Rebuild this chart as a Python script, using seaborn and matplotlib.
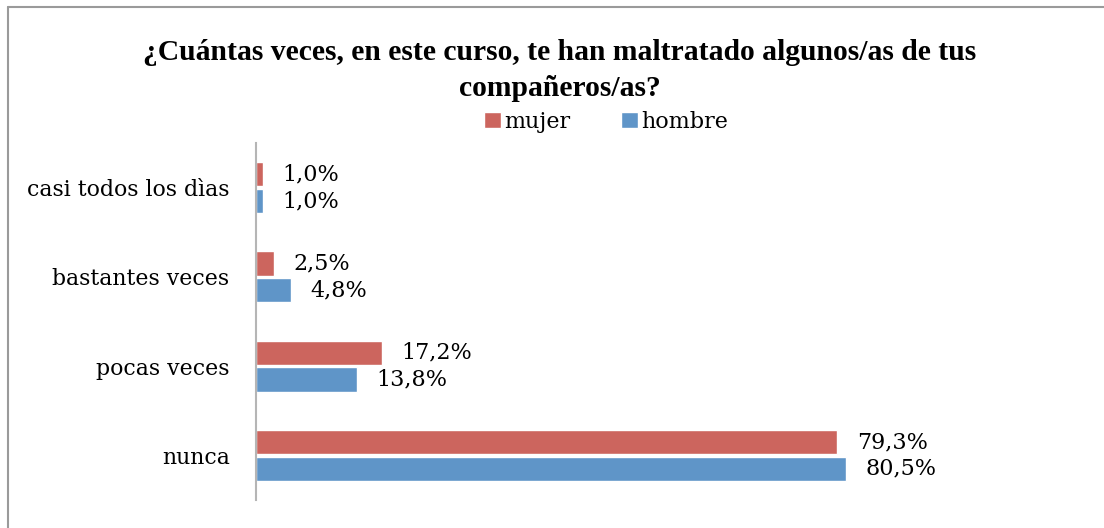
import pandas as pd
import matplotlib.pyplot as plt
import seaborn as sns
from matplotlib.lines import Line2D

# datos
categorias = ['casi todos los dìas', 'bastantes veces', 'pocas veces', 'nunca']
mujer = [1.0, 2.5, 17.2, 79.3]
hombre = [1.0, 4.8, 13.8, 80.5]
series = ['mujer', 'hombre']
colores = ['#CC655E', '#5F95C8']

df = pd.DataFrame({
    'categoria': categorias * 2,
    'valor': mujer + hombre,
    'sexo': ['mujer'] * 4 + ['hombre'] * 4,
})

sns.set_style('white')
plt.rcParams['font.family'] = ['DejaVu Serif']
plt.rcParams['text.color'] = 'black'

fig = plt.figure(figsize=(11.04, 5.28), dpi=100)
ax = fig.add_axes([256 / 1104, 1 - 500 / 528, 733 / 1104, 357 / 528])

sns.barplot(data=df, y='categoria', x='valor', hue='sexo', order=categorias,
            hue_order=series, palette=colores, orient='h', width=0.6, gap=0.1,
            saturation=1, ax=ax)

ax.set_xlim(0, 100)
ax.set_ylim(3.5, -0.5)
ax.set_xlabel('')
ax.set_ylabel('')
ax.set_xticks([])
ax.tick_params(axis='y', length=0, labelsize=15.8, pad=19, colors='black')
for s in ['top', 'right', 'bottom']:
    ax.spines[s].set_visible(False)
ax.spines['left'].set_color('#b5b5b5')
ax.spines['left'].set_linewidth(1.5)

# etiquetas de datos con coma decimal
for cont, vals in zip(ax.containers, [mujer, hombre]):
    ax.bar_label(cont, labels=[f'{v:.1f}%'.replace('.', ',') for v in vals],
                 padding=14, fontsize=16, color='black')

# leyenda arriba
h, l = ax.get_legend_handles_labels()
leg = ax.legend(h, l, loc='center', bbox_to_anchor=(606 / 1104, 1 - 122 / 528),
                bbox_transform=fig.transFigure, ncol=2, frameon=False, fontsize=16,
                handlelength=0.75, handleheight=0.75, handletextpad=0.15, columnspacing=2.3)
for t in leg.get_texts():
    t.set_color('black')

# titulo en dos lineas
fig.text(560 / 1104, 1 - 52 / 528, '¿Cuántas veces, en este curso, te han maltratado algunos/as de tus',
         ha='center', va='center', fontsize=21.3, fontweight='bold', family='Liberation Serif',
         color='black')
fig.text(560 / 1104, 1 - 88 / 528, 'compañeros/as?',
         ha='center', va='center', fontsize=21.3, fontweight='bold', family='Liberation Serif',
         color='black')

# borde del area del grafico
fig.add_artist(Line2D([8 / 1104, 8 / 1104], [0, 1 - 7 / 528], color='#9a9a9a', lw=1.5))
fig.add_artist(Line2D([8 / 1104, 1], [1 - 7 / 528, 1 - 7 / 528], color='#9a9a9a', lw=1.5))

plt.savefig('out.png', dpi=100)
